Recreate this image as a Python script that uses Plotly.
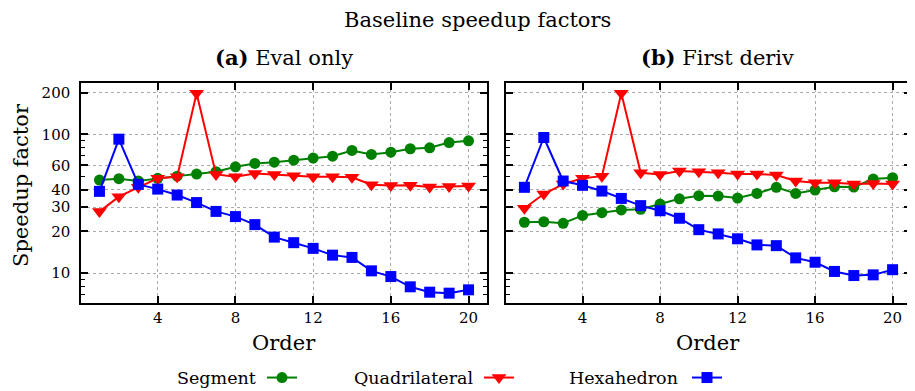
import plotly.graph_objects as go

orders = list(range(1, 21))

# (a) Eval only
seg_eval = [46.9, 48.0, 46.2, 48.3, 50.1, 51.8, 53.9, 58.5, 61.8, 63.2,
            65.3, 67.6, 69.8, 76.7, 71.8, 74.6, 78.9, 80.2, 87.5, 90.0]
quad_eval = [27.8, 35.6, 41.6, 48.3, 49.6, 198.0, 51.5, 49.6, 52.4, 51.5,
             50.4, 49.6, 49.6, 49.1, 43.4, 42.8, 43.0, 41.8, 42.2, 42.5]
hex_eval = [38.9, 92.5, 43.7, 40.4, 36.6, 32.3, 27.9, 25.6, 22.4, 18.2,
            16.6, 15.1, 13.5, 13.0, 10.4, 9.46, 7.98, 7.30, 7.18, 7.59]

# (b) First deriv
seg_deriv = [23.3, 23.5, 22.9, 26.1, 27.3, 28.6, 28.9, 31.5, 34.4, 36.2,
             36.0, 34.8, 37.6, 41.6, 37.6, 39.8, 42.0, 41.8, 47.7, 48.8]
quad_deriv = [29.4, 37.2, 43.9, 48.3, 50.1, 198.0, 53.0, 51.5, 54.5, 53.9,
              53.0, 51.8, 51.8, 51.0, 46.2, 44.9, 44.9, 43.9, 44.4, 43.9]
hex_deriv = [41.6, 95.1, 46.2, 43.0, 39.1, 34.6, 30.7, 28.2, 24.9, 20.6,
             19.2, 17.7, 16.0, 15.8, 12.9, 12.0, 10.3, 9.62, 9.73, 10.6]

series_names = ["Segment", "Quadrilateral", "Hexahedron"]
series_colors = ["#008000", "#ff0000", "#0000ff"]
series_symbols = ["circle", "triangle-down", "square"]
series_sizes = [11, 13, 11]

x_ticks = [4, 8, 12, 16, 20]
y_ticks = [10, 20, 30, 40, 60, 100, 200]
y_minor = [7, 8, 9, 50, 70, 80, 90]

FONT = "DejaVu Serif"
# page body has an 8px margin: build the figure 8px smaller and shift
OFF = 8
W, H = 915 - OFF, 391 - OFF


def px(x):
    return (x - OFF) / W


def py(y):
    return 1 - (y - OFF) / H


fig = go.Figure()

panels = [
    ("x", "y", [seg_eval, quad_eval, hex_eval]),
    ("x2", "y2", [seg_deriv, quad_deriv, hex_deriv]),
]
legend_ids = ["legend", "legend2", "legend3"]
for pi, (xa, ya, data) in enumerate(panels):
    for si, vals in enumerate(data):
        fig.add_trace(go.Scatter(
            x=orders, y=vals, xaxis=xa, yaxis=ya,
            mode="lines+markers",
            name="",
            legend=legend_ids[si],
            showlegend=(pi == 0),
            line=dict(color=series_colors[si], width=2),
            marker=dict(symbol=series_symbols[si], size=series_sizes[si],
                        color=series_colors[si],
                        line=dict(width=0)),
        ))

ydom = [py(303), py(83)]
xdom1 = [px(81), px(487)]
xdom2 = [px(506), px(911)]

common_x = dict(
    range=[0.05, 20.95], tickvals=x_ticks, ticks="inside", ticklen=7,
    tickwidth=1.5, tickcolor="black", showline=True, linecolor="black",
    linewidth=1.5, mirror="allticks", showgrid=True, gridcolor="#aaaaaa",
    griddash="dot", gridwidth=1, zeroline=False,
    tickfont=dict(family=FONT, size=15, color="black"),
)
common_y = dict(
    type="log", range=[0.7853, 2.3711], tickvals=y_ticks, ticks="inside",
    ticklen=7, tickwidth=1.5, tickcolor="black", showline=True,
    linecolor="black", linewidth=1.5, mirror="allticks", showgrid=True,
    gridcolor="#aaaaaa", griddash="dot", gridwidth=1, zeroline=False,
    minor=dict(tickmode="array", tickvals=y_minor, ticks="inside",
               ticklen=4, tickwidth=1.2, tickcolor="black", showgrid=False),
    tickfont=dict(family=FONT, size=15, color="black"),
)

fig.update_layout(
    width=W, height=H,
    margin=dict(l=0, r=0, t=0, b=0, autoexpand=False),
    paper_bgcolor="white", plot_bgcolor="white",
    font=dict(family=FONT, color="black"),
    xaxis=dict(domain=xdom1, anchor="y", **common_x),
    yaxis=dict(domain=ydom, anchor="x", ticklabelstandoff=6, **common_y),
    xaxis2=dict(domain=xdom2, anchor="y2", **common_x),
    yaxis2=dict(domain=ydom, anchor="x2", showticklabels=False, **common_y),
)

legend_x = [262, 479, 687]
label_right = [258, 475, 680]
for i, lid in enumerate(legend_ids):
    fig.update_layout({lid: dict(
        x=px(legend_x[i]), y=py(378), xanchor="left", yanchor="middle",
        orientation="h", bgcolor="rgba(0,0,0,0)", borderwidth=0,
        font=dict(family=FONT, size=17), itemwidth=30,
    )})

annotations = [
    dict(text="Baseline speedup factors", x=px(478), y=py(20),
         font=dict(size=21)),
    dict(text="<b>(a)</b> Eval only", x=px(284), y=py(58),
         font=dict(size=21)),
    dict(text="<b>(b)</b> First deriv", x=px(717), y=py(58),
         font=dict(size=21)),
    dict(text="Order", x=px(284), y=py(343), font=dict(size=21)),
    dict(text="Order", x=px(708), y=py(343), font=dict(size=21)),
    dict(text="Speedup factor", x=px(21), y=py(185), textangle=-90,
         font=dict(size=21)),
]
for i, name in enumerate(series_names):
    annotations.append(dict(text=name, x=px(label_right[i]), y=py(378),
                            xanchor="right", font=dict(size=17.5)))
for a in annotations:
    a.setdefault("xanchor", "center")
    a.update(xref="paper", yref="paper", yanchor="middle", showarrow=False)
    a["font"] = dict(family=FONT, color="black", **a["font"])
fig.update_layout(annotations=annotations)

fig.write_html("out.html")
